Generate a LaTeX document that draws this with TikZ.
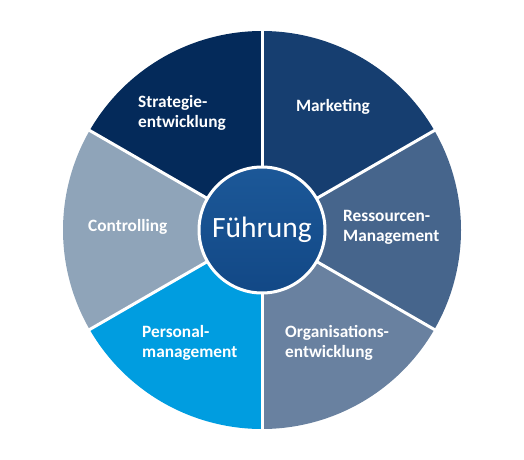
\documentclass[tikz,border=0pt]{standalone}
\usepackage{fontspec}
\setmainfont{Carlito}
\definecolor{cStrat}{RGB}{4,42,90}
\definecolor{cMark}{RGB}{22,62,112}
\definecolor{cRess}{RGB}{70,101,140}
\definecolor{cOrga}{RGB}{105,129,160}
\definecolor{cPers}{RGB}{0,157,224}
\definecolor{cCont}{RGB}{143,164,185}
\definecolor{cHubTop}{RGB}{28,88,152}
\definecolor{cHubBot}{RGB}{18,72,134}
\tikzset{
  seglabel/.style={text=white, font=\fontsize{17.3}{20}\selectfont\bfseries, align=left, inner sep=0pt},
  divider/.style={white, line width=3pt},
}
\begin{document}
\begin{tikzpicture}[x=1pt,y=1pt]
\useasboundingbox (0,0) rectangle (524,459);
\coordinate (c) at (262,229);
\def\R{199}
\fill[cMark] (c) -- ++(30:\R) arc[start angle=30,end angle=90,radius=\R] -- cycle;
\fill[cStrat] (c) -- ++(90:\R) arc[start angle=90,end angle=150,radius=\R] -- cycle;
\fill[cCont] (c) -- ++(150:\R) arc[start angle=150,end angle=210,radius=\R] -- cycle;
\fill[cPers] (c) -- ++(210:\R) arc[start angle=210,end angle=270,radius=\R] -- cycle;
\fill[cOrga] (c) -- ++(270:\R) arc[start angle=270,end angle=330,radius=\R] -- cycle;
\fill[cRess] (c) -- ++(330:\R) arc[start angle=330,end angle=390,radius=\R] -- cycle;
\foreach \a in {30,90,150,210,270,330}{
  \draw[divider] (c) -- ++(\a:\R+2);
}
\node[circle, minimum size=126pt, inner sep=0pt, draw=white, line width=3pt,
  top color=cHubTop, bottom color=cHubBot, text=white,
  font=\fontsize{29.5}{34}\selectfont] (hub) at (c) {Führung};
\node[seglabel, anchor=west] (strat) at (138,346.5) {Strategie-\\entwicklung};
\node[seglabel] (mark) at (333,352) {Marketing};
\node[seglabel, anchor=west] (ress) at (343,232) {Ressourcen-\\Management};
\node[seglabel, anchor=west] (cont) at (88,232) {Controlling};
\node[seglabel, anchor=west] (orga) at (285,116) {Organisations-\\entwicklung};
\node[seglabel, anchor=west] (pers) at (142,116) {Personal-\\management};
\end{tikzpicture}
\end{document}
